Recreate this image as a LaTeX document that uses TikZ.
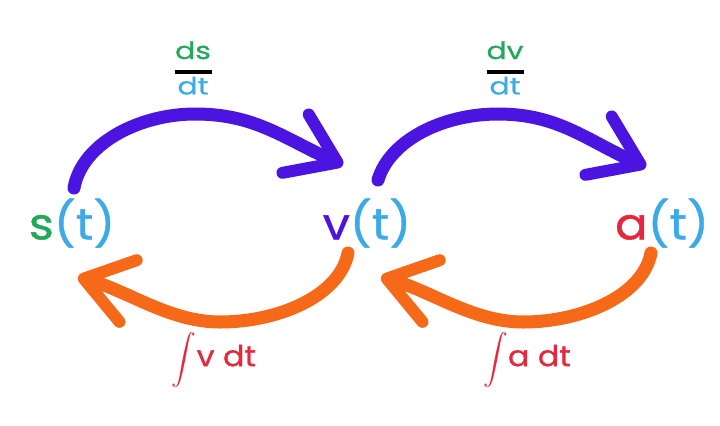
\documentclass[tikz,border=0pt]{standalone}
\usepackage{amsmath}
\usepackage{fontspec}
\setmainfont{Poppins}
\newfontfamily\funfont{Poppins}[FakeStretch=1.1, FakeBold=0.9]
\newfontfamily\ratefont{Poppins}[FakeStretch=1.25, FakeBold=0.8]
\usepackage{tikz}
\usetikzlibrary{arrows.meta,
                calc,
                positioning}
\definecolor{sgreen}{RGB}{34,168,90}
\definecolor{tblue}{RGB}{60,170,230}
\definecolor{vpurple}{RGB}{75,20,225}
\definecolor{ared}{RGB}{230,40,60}
\definecolor{intorange}{RGB}{245,105,25}
\newcommand{\ratelabel}[2]{\vbox{\offinterlineskip
	\hbox to 40bp{\hss\color{sgreen}#1\hss}
	\kern11bp
	\hbox to 40bp{\hss\color{black}\rule{37bp}{3.5bp}\hss}
	\kern3bp
	\hbox to 40bp{\hss\color{tblue}#2\hss}}}
\newcommand{\intsign}{{\fontsize{27}{27}\selectfont$\displaystyle\int$}}
\tikzstyle{fun} = [inner sep=0pt, font=\funfont\fontsize{44}{44}\selectfont]
\tikzstyle{rate} = [inner sep=0pt, font=\ratefont\fontsize{24}{24}\selectfont]
\tikzstyle{antider} = [inner sep=0pt, text=ared, font=\funfont\fontsize{29}{29}\selectfont]
\tikzstyle{diffarrow} = [line width=13bp, draw=vpurple, line cap=round, -{Straight Barb[length=46bp, width=64bp, line width=12bp, round]}]
\tikzstyle{intarrow} = [line width=13bp, draw=intorange, line cap=round, -{Straight Barb[length=46bp, width=64bp, line width=12bp, round]}]

\begin{document}
\begin{tikzpicture}[x=1bp, y=-1bp, node distance=295bp]
	\useasboundingbox (0,0) rectangle (720,425);
	\node (pos) [fun] at (72,223) {{\color{sgreen}s}{\color{tblue}(t)}};
	\node (vel) [fun, right of=pos] {{\color{vpurple}v}{\color{tblue}(t)}};
	\node (acc) [fun, right of=vel] {{\color{ared}a}{\color{tblue}(t)}};
	\node (dsdt) [rate] at (193,68) {\ratelabel{ds}{dt}};
	\node (dvdt) [rate] at (505,68) {\ratelabel{dv}{dt}};
	\node (intv) [antider] at (214,360) {\intsign v dt};
	\node (inta) [antider] at (527,360) {\intsign a dt};
	% derivatives
	\draw [diffarrow] ($(pos)+(2,-35)$) .. controls +(8,-45) and +(-55,0) .. ($(pos)+(123,-109)$) .. controls +(60,0) and +(-60,-27) .. ($(vel)+(-24,-58)$);
	\draw [diffarrow] ($(vel)+(11,-43)$) .. controls +(12,-40) and +(-55,0) .. ($(vel)+(131,-109)$) .. controls +(60,0) and +(-60,-27) .. ($(acc)+(-16,-56)$);
	% integrals
	\draw [intarrow] ($(vel)+(-19,30)$) .. controls +(-8,42) and +(60,0) .. ($(vel)+(-147,99)$) .. controls +(-50,0) and +(50,14) .. ($(pos)+(6,54)$);
	\draw [intarrow] ($(acc)+(-11,30)$) .. controls +(-8,42) and +(60,0) .. ($(acc)+(-139,99)$) .. controls +(-50,0) and +(50,14) .. ($(vel)+(14,54)$);
\end{tikzpicture}
\end{document}
